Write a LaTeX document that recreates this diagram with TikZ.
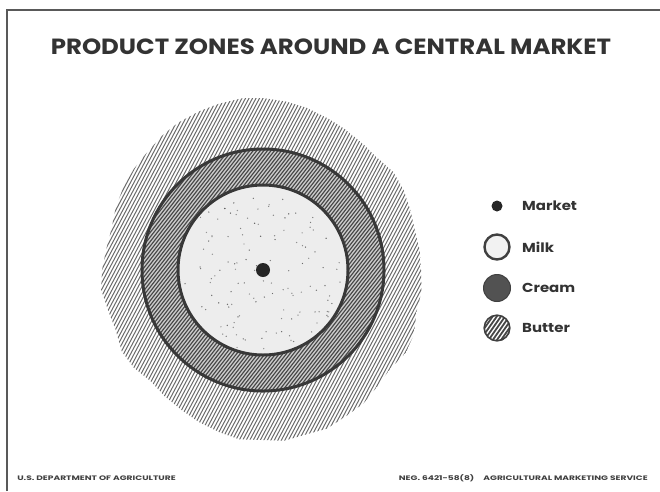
\documentclass[tikz,border=0pt]{standalone}
\usepackage{fontspec}
\usetikzlibrary{calc}
\newfontfamily\heavy{Poppins}[BoldFont={* Bold}]
\begin{document}
\begin{tikzpicture}[x=1pt,y=-1pt,
  frameline/.style={draw=black!65,line width=1.2pt},
  zoneedge/.style={draw=black!78,line width=3pt},
  legendlabel/.style={anchor=west,inner sep=0pt,xscale=1.15,text=black!80,font=\heavy\bfseries\fontsize{13}{15}\selectfont},
  foot/.style={inner sep=0pt,xscale=1.4,text=black!75,font=\heavy\bfseries\fontsize{6.5}{7}\selectfont},
  butterline/.style={draw=black!58,line width=1pt},
  creamline/.style={draw=black!72,line width=1.15pt}]
\useasboundingbox (0,0) rectangle (660,491);
\fill[white] (0,0) rectangle (660,491);

% sheet frame
\coordinate (ftl) at (7,10);
\coordinate (ftr) at (660,10);
\coordinate (fbl) at (7,491);
\draw[frameline] (fbl) -- (ftl) -- (ftr);

% title
\node[inner sep=0pt,xscale=1.11,text=black!80,font=\heavy\bfseries\fontsize{22}{25}\selectfont]
  (title) at (331,47) {PRODUCT ZONES AROUND A CENTRAL MARKET};

% centre of the zones
\coordinate (c) at (263,270);

% butter zone: ragged outer boundary with hatching
\begin{scope}
  \clip ([shift={(c)}]0:158) -- ([shift={(c)}]8:160) -- ([shift={(c)}]15:159)
    -- ([shift={(c)}]23:164) -- ([shift={(c)}]30:165) -- ([shift={(c)}]38:161)
    -- ([shift={(c)}]45:163) -- ([shift={(c)}]53:167) -- ([shift={(c)}]60:168)
    -- ([shift={(c)}]68:171) -- ([shift={(c)}]75:170) -- ([shift={(c)}]83:172)
    -- ([shift={(c)}]90:170) -- ([shift={(c)}]98:171) -- ([shift={(c)}]105:168)
    -- ([shift={(c)}]113:165) -- ([shift={(c)}]120:162) -- ([shift={(c)}]128:160)
    -- ([shift={(c)}]135:158) -- ([shift={(c)}]143:162) -- ([shift={(c)}]150:163)
    -- ([shift={(c)}]158:159) -- ([shift={(c)}]165:160) -- ([shift={(c)}]173:163)
    -- ([shift={(c)}]180:161) -- ([shift={(c)}]188:158) -- ([shift={(c)}]195:157)
    -- ([shift={(c)}]203:160) -- ([shift={(c)}]210:162) -- ([shift={(c)}]218:164)
    -- ([shift={(c)}]225:165) -- ([shift={(c)}]233:168) -- ([shift={(c)}]240:170)
    -- ([shift={(c)}]248:171) -- ([shift={(c)}]255:172) -- ([shift={(c)}]263:173)
    -- ([shift={(c)}]270:172) -- ([shift={(c)}]278:170) -- ([shift={(c)}]285:168)
    -- ([shift={(c)}]293:165) -- ([shift={(c)}]300:163) -- ([shift={(c)}]308:161)
    -- ([shift={(c)}]315:160) -- ([shift={(c)}]323:163) -- ([shift={(c)}]330:162)
    -- ([shift={(c)}]338:159) -- ([shift={(c)}]345:157) -- ([shift={(c)}]353:158)
    -- cycle;
  \begin{scope}[shift={(c)},rotate=62]
    \foreach \k in {-62,...,62}
      \draw[butterline] (-200,\k*3.1) -- (200,\k*3.1);
  \end{scope}
\end{scope}

% cream zone: ring with dense hatching
\fill[black!20] (c) circle[radius=121];
\begin{scope}
  \clip (c) circle[radius=121];
  \begin{scope}[shift={(c)},rotate=52]
    \foreach \k in {-44,...,44}
      \draw[creamline] (-130,\k*2.8) -- (130,\k*2.8);
  \end{scope}
\end{scope}

% milk zone: light stippled disc
\fill[black!7] (c) circle[radius=85];
\pgfmathsetseed{4207}
\begin{scope}
  \clip (c) circle[radius=82];
  \foreach \i in {1,...,160}{
    \pgfmathsetmacro{\dx}{rand*80}
    \pgfmathsetmacro{\dy}{rand*80}
    \pgfmathsetmacro{\sh}{40+25*rnd}
    \fill[black!\sh] ($(c)+(\dx,\dy)$) circle[radius=0.7];
  }
\end{scope}

% zone boundaries and the market
\draw[zoneedge] (c) circle[radius=121];
\draw[zoneedge] (c) circle[radius=85];
\node[circle,fill=black!85,inner sep=0pt,minimum size=14pt] (market) at (c) {};

% legend
\node[circle,fill=black!85,inner sep=0pt,minimum size=11pt] (kmarket) at (497,206) {};
\node[legendlabel] (lmarket) at (522,206) {Market};

\node[circle,fill=black!5,draw=black!75,line width=2.4pt,inner sep=0pt,minimum size=25pt] (kmilk) at (497,247) {};
\node[legendlabel] (lmilk) at (522,247) {Milk};

\node[circle,fill=black!68,draw=black!75,line width=1pt,inner sep=0pt,minimum size=27pt] (kcream) at (497,288) {};
\node[legendlabel] (lcream) at (522,288) {Cream};

\node[circle,fill=white,inner sep=0pt,minimum size=27pt] (kbutter) at (497,328) {};
\begin{scope}
  \clip (kbutter.center) circle[radius=13];
  \begin{scope}[shift={(kbutter.center)},rotate=55]
    \foreach \k in {-4,...,4}
      \draw[draw=black!72,line width=1.8pt] (-15,\k*3.4) -- (15,\k*3.4);
  \end{scope}
\end{scope}
\draw[draw=black!75,line width=1.6pt] (kbutter.center) circle[radius=12.8];
\node[legendlabel] (lbutter) at (522,328) {Butter};

% footer
\node[foot,anchor=west] (dept) at (17,478) {U.S. DEPARTMENT OF AGRICULTURE};
\node[foot,anchor=east] (neg) at (648,478) {NEG. 6421-58(8)\quad AGRICULTURAL MARKETING SERVICE};
\end{tikzpicture}
\end{document}
